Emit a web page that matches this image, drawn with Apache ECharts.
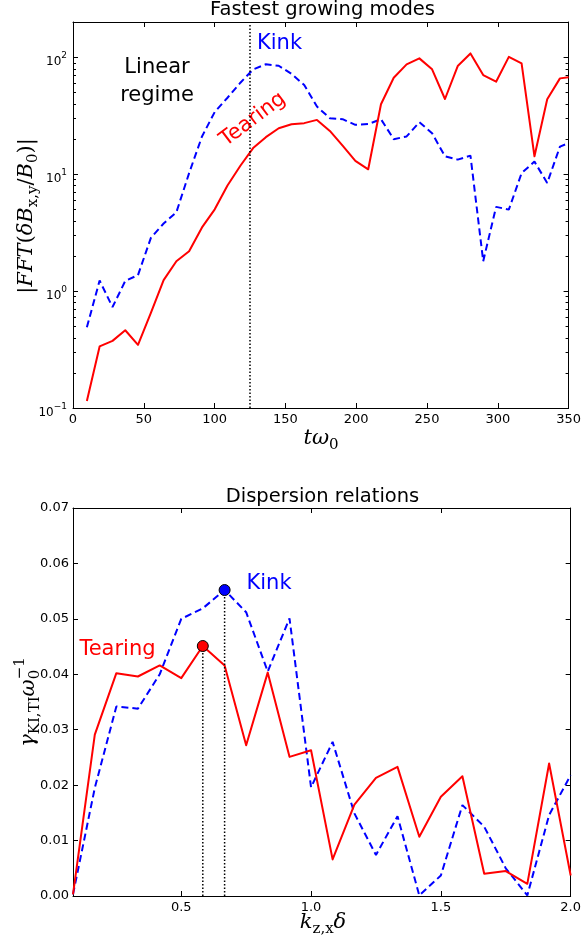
<!DOCTYPE html>
<html><head><meta charset="utf-8">
<script src="https://cdn.jsdelivr.net/npm/echarts@6/dist/echarts.min.js"></script>
<style>html,body{margin:0;padding:0;background:#fff}#c{width:584px;height:940px}</style>
</head><body><div id="c"></div>
<script>
// ---------- data: top panel (Fastest growing modes) ----------
const tValues = [9.8, 18.8, 27.9, 36.9, 45.9, 55.0, 64.0, 73.0, 82.0, 91.1, 100.1, 109.1, 118.2, 127.2, 136.2, 145.3, 154.3, 163.3, 172.3, 181.4, 190.4, 199.4, 208.5, 217.5, 226.5, 235.6, 244.6, 253.6, 262.7, 271.7, 280.7, 289.7, 298.8, 307.8, 316.8, 325.9, 334.9, 343.9, 350.0];
const tearingFFT = [0.115, 0.336, 0.375, 0.462, 0.347, 0.65, 1.24, 1.80, 2.19, 3.5, 5.0, 8.0, 11.8, 16.7, 20.7, 24.7, 26.7, 27.3, 29.1, 23.4, 17.5, 13.0, 11.0, 39.6, 66.7, 86.8, 97.7, 78.7, 43.9, 84, 107.7, 70.4, 61.7, 100.7, 88.5, 14.2, 43.7, 65.9, 67.3];
const kinkFFT = [0.49, 1.23, 0.73, 1.22, 1.37, 2.85, 3.78, 4.72, 10.2, 21, 34, 45, 60.5, 78.7, 87, 84.5, 72, 57.8, 37.8, 30.1, 29.5, 26.4, 26.8, 29.5, 19.9, 21, 27.8, 22.4, 14.2, 13.3, 14.4, 1.80, 5.25, 4.97, 10.2, 12.8, 8.4, 17.2, 18.4];
const linearRegimeEnd = 125;
const tTicks = [0, 50, 100, 150, 200, 250, 300, 350];
const fftMinorTicks = [0.2, 0.3, 0.4, 0.5, 0.6, 0.7, 0.8, 0.9, 2, 3, 4, 5, 6, 7, 8, 9, 20, 30, 40, 50, 60, 70, 80, 90];

// ---------- data: bottom panel (Dispersion relations) ----------
const kValues = [0.083, 0.167, 0.25, 0.333, 0.417, 0.5, 0.583, 0.667, 0.75, 0.833, 0.917, 1.0, 1.083, 1.167, 1.25, 1.333, 1.417, 1.5, 1.583, 1.667, 1.75, 1.833, 1.917, 2.0];
const tearingGamma = [0.0003, 0.0291, 0.0402, 0.0396, 0.0416, 0.0393, 0.0451, 0.0416, 0.0272, 0.0403, 0.0251, 0.0263, 0.0066, 0.0165, 0.0213, 0.0233, 0.0107, 0.0179, 0.0216, 0.0040, 0.0045, 0.0022, 0.0239, 0.0037];
const kinkGamma = [0.0003, 0.0195, 0.0342, 0.0338, 0.0400, 0.0500, 0.0519, 0.0552, 0.0512, 0.0405, 0.0501, 0.0196, 0.0278, 0.0149, 0.0074, 0.0144, 0.0001, 0.0037, 0.0164, 0.0125, 0.0050, 0.0001, 0.0146, 0.0218];
const kTicks = [0.5, 1.0, 1.5, 2.0];
const gammaTicks = [0, 0.01, 0.02, 0.03, 0.04, 0.05, 0.06, 0.07];

const titles = ['Fastest growing modes', 'Dispersion relations'];

// ---------- helpers ----------
const SANS = 'DejaVu Sans';
const SERIF = 'DejaVu Serif';
const RED = '#ff0000', BLUE = '#0000ff';
const zip = (xs, ys) => xs.map((x, i) => [x, ys[i]]);
const argmax = a => a.reduce((bi, v, i) => v > a[bi] ? i : bi, 0);

const mctx = document.createElement('canvas').getContext('2d');
function fontStr(size, it) { return (it ? 'italic ' : '') + size + 'px "' + SERIF + '"'; }
function tw(t, size, it) { mctx.font = fontStr(size, it); return mctx.measureText(t).width; }
function mathLabel(tokens, cx, cy, rot) {
  let x = 0; const pieces = [];
  tokens.forEach(tk => {
    pieces.push({x: x + (tk.dx || 0), tk});
    if (!tk.noAdv) x += tw(tk.t, tk.s, tk.it) + (tk.dx || 0) + (tk.gap || 0);
  });
  const W = x;
  return {
    type: 'group', x: cx, y: cy, rotation: rot || 0, silent: true,
    children: pieces.map(p => ({
      type: 'text', x: p.x - W / 2, y: p.tk.dy || 0,
      style: {text: p.tk.t, font: fontStr(p.tk.s, p.tk.it), fill: '#000', align: 'left', verticalAlign: 'middle'}
    }))
  };
}
function sansText(t, x, y, size, color, align, rot) {
  if (rot) {
    return {type: 'group', x: x, y: y, rotation: rot, silent: true, children: [
      {type: 'text', x: 0, y: 0, style: {text: t, fontFamily: SANS, fontSize: size, fill: color, align: align || 'center', verticalAlign: 'middle'}}]};
  }
  return {type: 'text', x: x, y: y, silent: true,
    style: {text: t, fontFamily: SANS, fontSize: size, fill: color, align: align || 'center', verticalAlign: 'middle'}};
}

const axLine = {show: true, onZero: false, lineStyle: {color: '#000', width: 1}};
const tickIn = {show: true, inside: true, length: 5, lineStyle: {color: '#000', width: 1}};
const lbl = {fontFamily: SANS, fontSize: 13, color: '#000'};

const M = 21, S = 15;
const iT = argmax(tearingGamma), iK = argmax(kinkGamma);

const chart = echarts.init(document.getElementById('c'), null, {renderer: 'canvas'});
chart.setOption({
  animation: false,
  backgroundColor: '#fff',
  grid: [
    {left: 73, top: 22, width: 499, height: 386},
    {left: 73, top: 508, width: 499, height: 388}
  ],
  xAxis: [
    {gridIndex: 0, type: 'value', min: tTicks[0], max: tTicks[tTicks.length - 1], interval: 50, position: 'bottom',
      axisLine: axLine, axisTick: tickIn, splitLine: {show: false}, axisLabel: Object.assign({margin: 5}, lbl)},
    {gridIndex: 0, type: 'value', min: tTicks[0], max: tTicks[tTicks.length - 1], interval: 50, position: 'top',
      axisLine: axLine, axisTick: tickIn, splitLine: {show: false}, axisLabel: {show: false}},
    {gridIndex: 1, type: 'value', min: kValues[0], max: 2.0, position: 'bottom',
      axisLine: axLine, axisTick: Object.assign({customValues: kTicks}, tickIn), splitLine: {show: false},
      axisLabel: Object.assign({margin: 5, customValues: kTicks, formatter: v => v.toFixed(1)}, lbl)},
    {gridIndex: 1, type: 'value', min: kValues[0], max: 2.0, position: 'top',
      axisLine: axLine, axisTick: Object.assign({customValues: kTicks}, tickIn), splitLine: {show: false}, axisLabel: {show: false}}
  ],
  yAxis: [
    {gridIndex: 0, type: 'log', logBase: 10, min: 0.1, max: 200, position: 'left',
      axisLine: axLine, axisTick: tickIn, splitLine: {show: false}, minorTick: {show: false},
      axisLabel: {margin: 6, padding: [5, 0, 0, 0], formatter: v => {
          const e = Math.log10(v), r = Math.round(e);
          if (Math.abs(e - r) > 1e-6) return '';
          return '{b|10}{s|' + (r < 0 ? '\u2212' + (-r) : r) + '}';
        },
        rich: {b: {fontFamily: SANS, fontSize: 12, color: '#000', lineHeight: 17, verticalAlign: 'bottom'},
               s: {fontFamily: SANS, fontSize: 9, color: '#000', lineHeight: 9, verticalAlign: 'top'}}}},
    {gridIndex: 0, type: 'log', logBase: 10, min: 0.1, max: 200, position: 'right',
      axisLine: axLine, axisTick: tickIn, splitLine: {show: false}, axisLabel: {show: false}},
    {gridIndex: 1, type: 'value', min: gammaTicks[0], max: gammaTicks[gammaTicks.length - 1], interval: 0.01, position: 'left',
      axisLine: axLine, axisTick: tickIn, splitLine: {show: false},
      axisLabel: Object.assign({margin: 4, formatter: v => v.toFixed(2)}, lbl)},
    {gridIndex: 1, type: 'value', min: gammaTicks[0], max: gammaTicks[gammaTicks.length - 1], interval: 0.01, position: 'right',
      axisLine: axLine, axisTick: tickIn, splitLine: {show: false}, axisLabel: {show: false}}
  ],
  series: [
    {type: 'line', xAxisIndex: 0, yAxisIndex: 0, data: zip(tValues, kinkFFT), showSymbol: false, silent: true,
      lineStyle: {color: BLUE, width: 2, type: [7, 4]}, z: 3,
      markLine: {silent: true, symbol: 'none', label: {show: false},
        lineStyle: {color: '#000', width: 1.5, type: [1.5, 2]}, data: [{xAxis: linearRegimeEnd}]}},
    {type: 'line', xAxisIndex: 0, yAxisIndex: 0, data: zip(tValues, tearingFFT), showSymbol: false, silent: true,
      lineStyle: {color: RED, width: 2, join: 'round'}, z: 4},
    {type: 'custom', xAxisIndex: 0, yAxisIndex: 0, silent: true, clip: false,
      data: fftMinorTicks.map(v => [0, v]), encode: {x: 0, y: 1},
      renderItem: (params, api) => {
        const cs = params.coordSys;
        const y = Math.round(api.coord([api.value(0), api.value(1)])[1]) + 0.5;
        return {type: 'group', children: [
          {type: 'line', shape: {x1: cs.x, y1: y, x2: cs.x + 3, y2: y}, style: {stroke: '#000', lineWidth: 1}},
          {type: 'line', shape: {x1: cs.x + cs.width - 3, y1: y, x2: cs.x + cs.width, y2: y}, style: {stroke: '#000', lineWidth: 1}}
        ]};
      }},
    {type: 'line', xAxisIndex: 2, yAxisIndex: 2, data: zip(kValues, kinkGamma), showSymbol: false, silent: true,
      lineStyle: {color: BLUE, width: 2, type: [7, 4]}, z: 3},
    {type: 'line', xAxisIndex: 2, yAxisIndex: 2, data: zip(kValues, tearingGamma), showSymbol: false, silent: true,
      lineStyle: {color: RED, width: 2, join: 'round'}, z: 4},
    {type: 'line', xAxisIndex: 2, yAxisIndex: 2, data: [[kValues[iT], 0], [kValues[iT], tearingGamma[iT]]], showSymbol: false, silent: true,
      lineStyle: {color: '#000', width: 1.5, type: [1.5, 2]}, z: 5},
    {type: 'line', xAxisIndex: 2, yAxisIndex: 2, data: [[kValues[iK], 0], [kValues[iK], kinkGamma[iK]]], showSymbol: false, silent: true,
      lineStyle: {color: '#000', width: 1.5, type: [1.5, 2]}, z: 5},
    {type: 'scatter', xAxisIndex: 2, yAxisIndex: 2, data: [[kValues[iT], tearingGamma[iT]]], symbolSize: 11, silent: true,
      itemStyle: {color: RED, borderColor: '#000', borderWidth: 1, opacity: 1}, z: 6},
    {type: 'scatter', xAxisIndex: 2, yAxisIndex: 2, data: [[kValues[iK], kinkGamma[iK]]], symbolSize: 11, silent: true,
      itemStyle: {color: BLUE, borderColor: '#000', borderWidth: 1, opacity: 1}, z: 6}
  ],
  graphic: [
    sansText(titles[0], 322.5, 10, 19.5, '#000'),
    sansText(titles[1], 322.5, 496.5, 19.5, '#000'),
    sansText('Linear', 157, 68, 21, '#000'),
    sansText('regime', 157, 95.5, 21, '#000'),
    sansText('Kink', 257, 44, 21, BLUE, 'left'),
    sansText('Tearing', 253, 119.5, 21, RED, 'center', 37 * Math.PI / 180),
    sansText('Kink', 246.5, 584, 21, BLUE, 'left'),
    sansText('Tearing', 117.5, 650, 21, RED),
    mathLabel([
      {t: '|', s: M}, {t: 'FFT', s: M, it: 1}, {t: '(', s: M}, {t: 'δB', s: M, it: 1},
      {t: 'x,y', s: S, dy: 0.3 * M}, {t: '/', s: M}, {t: 'B', s: M, it: 1},
      {t: '0', s: S, dy: 0.3 * M}, {t: ')|', s: M}
    ], 27, 216, Math.PI / 2),
    mathLabel([
      {t: 'γ', s: M, it: 1}, {t: 'KI,TI', s: S, dy: 0.3 * M}, {t: 'ω', s: M, it: 1},
      {t: '0', s: S, dy: 0.3 * M, noAdv: 1}, {t: '\u22121', s: S, dy: -0.42 * M}
    ], 29, 702, Math.PI / 2),
    mathLabel([
      {t: 't', s: M, it: 1}, {t: 'ω', s: M, it: 1}, {t: '0', s: S, dy: 0.3 * M}
    ], 321, 439, 0),
    mathLabel([
      {t: 'k', s: M, it: 1}, {t: 'z,x', s: S, dy: 0.3 * M}, {t: 'δ', s: M, it: 1}
    ], 323, 923, 0)
  ]
});
</script>
</body></html>
